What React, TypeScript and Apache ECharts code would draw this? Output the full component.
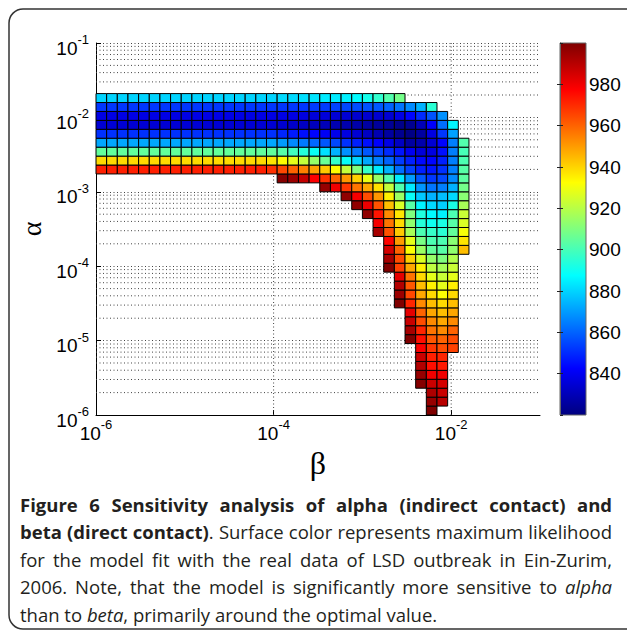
import React, { useEffect, useRef } from "react";
import * as echarts from "echarts";

// ---- grid edges (log10 exponents) ----
const betaEdges = [-6, -5.88, -5.76, -5.64, -5.52, -5.4, -5.28, -5.16, -5.04, -4.92, -4.8, -4.68, -4.56, -4.44, -4.32, -4.2, -4.08, -3.96, -3.84, -3.72, -3.6, -3.48, -3.36, -3.24, -3.12, -3, -2.88, -2.76, -2.64, -2.52, -2.4, -2.28, -2.16, -2.04, -1.92, -1.8];
const alphaEdges = [-6, -5.88, -5.76, -5.64, -5.52, -5.4, -5.28, -5.16, -5.04, -4.92, -4.8, -4.68, -4.56, -4.44, -4.32, -4.2, -4.08, -3.96, -3.84, -3.72, -3.6, -3.48, -3.36, -3.24, -3.12, -3, -2.88, -2.76, -2.64, -2.52, -2.4, -2.28, -2.16, -2.04, -1.92, -1.8, -1.68];

// first beta column of every alpha row (row 0 = bottom)
const rowStartCol = [31, 31, 31, 30, 30, 30, 30, 30, 29, 29, 29, 29, 28, 28, 28, 28, 27, 27, 27, 27, 26, 26, 25, 24, 23, 21, 17, 0, 0, 0, 0, 0, 0, 0, 0, 0];

// maximum likelihood surface, row by row from the bottom (alpha = 1e-6) upwards
const likelihood: number[][] = [
  [1000],
  [996, 990],
  [992, 987],
  [999, 987, 985],
  [996, 980, 980],
  [991, 975, 973],
  [987, 972, 971],
  [978, 968, 964, 966],
  [1000, 975, 962, 960, 964],
  [993, 971, 957, 953, 960],
  [987, 964, 953, 948, 953],
  [982, 960, 948, 944, 948],
  [1000, 971, 953, 944, 939, 944],
  [995, 965, 948, 939, 932, 939],
  [991, 962, 944, 935, 928, 935],
  [982, 957, 939, 928, 923, 928],
  [1000, 966, 948, 935, 921, 917, 923],
  [993, 964, 941, 926, 914, 910, 919],
  [985, 960, 932, 915, 905, 903, 913, 944],
  [977, 950, 928, 909, 901, 901, 912, 937],
  [993, 963, 942, 917, 901, 897, 895, 905, 931],
  [979, 957, 939, 913, 894, 890, 892, 903, 926],
  [997, 974, 953, 937, 910, 893, 887, 885, 901, 923],
  [997, 981, 963, 944, 926, 903, 886, 881, 879, 892, 917],
  [997, 979, 964, 951, 935, 915, 889, 878, 874, 876, 881, 912],
  [996, 980, 968, 957, 948, 938, 922, 902, 884, 869, 863, 865, 874, 908],
  [999, 995, 988, 978, 969, 960, 951, 941, 929, 914, 902, 884, 870, 858, 852, 855, 867, 904],
  [972, 972, 972, 972, 972, 972, 972, 972, 972, 972, 972, 972, 972, 972, 972, 972, 969, 965, 960, 955, 949, 942, 933, 922, 910, 897, 884, 874, 862, 854, 848, 846, 851, 865, 903],
  [939, 939, 939, 939, 939, 939, 939, 939, 939, 939, 939, 939, 939, 939, 939, 939, 937, 933, 928, 922, 914, 906, 897, 889, 880, 872, 865, 860, 853, 848, 844, 843, 848, 865, 901],
  [905, 905, 905, 905, 905, 905, 905, 905, 905, 905, 905, 905, 905, 905, 905, 905, 905, 903, 899, 894, 889, 882, 874, 868, 863, 858, 854, 850, 846, 840, 836, 837, 845, 865, 900],
  [872, 872, 872, 872, 872, 872, 872, 872, 872, 872, 872, 872, 872, 872, 872, 872, 872, 870, 867, 864, 861, 858, 855, 851, 848, 845, 842, 838, 832, 826, 828, 835, 843, 865, 902],
  [851, 851, 851, 851, 851, 851, 851, 851, 851, 851, 851, 851, 851, 851, 851, 851, 851, 849, 847, 845, 843, 841, 839, 837, 835, 832, 829, 826, 823, 821, 826, 837, 852, 871],
  [835, 835, 835, 835, 835, 835, 835, 835, 835, 835, 835, 835, 835, 835, 835, 835, 835, 834, 833, 832, 831, 830, 829, 828, 827, 826, 825, 824, 822, 823, 830, 842, 862, 886],
  [838, 838, 838, 838, 838, 838, 838, 838, 838, 838, 838, 838, 838, 838, 838, 838, 838, 838, 838, 837, 836, 836, 835, 835, 834, 834, 834, 835, 838, 843, 850, 857, 868],
  [852, 852, 852, 852, 852, 852, 852, 852, 852, 852, 852, 852, 852, 852, 852, 852, 852, 852, 852, 852, 853, 853, 854, 855, 856, 857, 858, 860, 863, 867, 874, 895],
  [880, 880, 880, 880, 880, 880, 880, 880, 880, 880, 880, 880, 880, 880, 880, 880, 880, 881, 881, 882, 883, 884, 884, 885, 887, 891, 896, 902, 908],
];

// ---- axes ----
const X_MIN = -6;
const X_MAX = -1;
const Y_MIN = -6;
const Y_MAX = -1;
const xTickExp = [-6, -4, -2];
const xGridExp = [-4, -2];
const minorDecades = [-6, -5, -4, -3, -2];
const minorMultipliers = [2, 3, 4, 5, 6, 7, 8, 9];
const CB_MIN = 820;
const CB_MAX = 1000;
const CB_STEP = 20;
const jetColors = ["#00007F", "#0000FF", "#007FFF", "#00FFFF", "#7FFF7F", "#FFFF00", "#FF7F00", "#FF0000", "#7F0000"];

// ---- caption ----
type Seg = [string, "normal" | "bold" | "italic"];
const captionLine1: Seg[] = [["Figure 6 Sensitivity analysis of alpha (indirect contact) and", "bold"]];
const captionLine2: Seg[] = [["beta (direct contact)", "bold"], [". Surface color represents maximum likelihood", "normal"]];
const captionLine3: Seg[] = [["for the model fit with the real data of LSD outbreak in Ein-Zurim,", "normal"]];
const captionLine4: Seg[] = [["2006. Note, that the model is significantly more sensitive to ", "normal"], ["alpha", "italic"]];
const captionLine5: Seg[] = [["than to ", "normal"], ["beta", "italic"], [", primarily around the optimal value.", "normal"]];
const captionLines = [captionLine1, captionLine2, captionLine3, captionLine4, captionLine5];
const captionJustify = [true, true, true, true, false];

const CAP_SIZE = 18.5;
const CAP_BOLD_SIZE = 18.5;
const CAP_LEFT = 20;
const CAP_RIGHT = 612;
const CAP_Y0 = 504;
const CAP_DY = 27.5;

const fontOf = (s: string) =>
  s === "bold"
    ? `bold ${CAP_BOLD_SIZE}px "Open Sans"`
    : s === "italic"
    ? `italic ${CAP_SIZE}px "Open Sans"`
    : `${CAP_SIZE}px "Open Sans"`;

function splitWords(segs: Seg[]) {
  const words: { text: string; style: string }[][] = [[]];
  segs.forEach(([text, style]) => {
    const parts = text.split(" ");
    parts.forEach((p, j) => {
      if (j > 0) words.push([]);
      if (p.length) words[words.length - 1].push({ text: p, style });
    });
  });
  return words.filter((w) => w.length > 0);
}

const tickRich = {
  b: { fontSize: 19, fontFamily: "Liberation Sans", color: "#000", lineHeight: 30 },
  s: { fontSize: 13, fontFamily: "Liberation Sans", color: "#000", lineHeight: 10, verticalAlign: "top" },
};

export default function App() {
  const ref = useRef<HTMLDivElement>(null);

  useEffect(() => {
    const el = ref.current;
    if (!el) return;
    const chart = echarts.init(el, null, { renderer: "svg" });

    const cells: number[][] = [];
    likelihood.forEach((vals, r) => {
      vals.forEach((v, i) => {
        const c = rowStartCol[r] + i;
        cells.push([betaEdges[c], betaEdges[c + 1], alphaEdges[r], alphaEdges[r + 1], v]);
      });
    });

    const gridLines: number[][] = [];
    minorDecades.forEach((d) =>
      minorMultipliers.forEach((m) => {
        const y = d + Math.log10(m);
        gridLines.push([X_MIN, y, X_MAX, y]);
      })
    );
    xGridExp.forEach((x) => gridLines.push([x, Y_MIN, x, Y_MAX]));

    // caption layout (justified)
    const ctx = document.createElement("canvas").getContext("2d")!;
    const measure = (t: string, st: string) => {
      ctx.font = fontOf(st);
      return ctx.measureText(t).width;
    };
    const captionEls: any[] = [];
    captionLines.forEach((segs, li) => {
      const words = splitWords(segs);
      const widths = words.map((w) => w.reduce((s, g) => s + measure(g.text, g.style), 0));
      const total = widths.reduce((a, b) => a + b, 0);
      const gap = captionJustify[li]
        ? (CAP_RIGHT - CAP_LEFT - total) / (words.length - 1)
        : measure(" ", "normal");
      let x = CAP_LEFT;
      const y = CAP_Y0 + li * CAP_DY;
      words.forEach((w, wi) => {
        let wx = x;
        w.forEach((g) => {
          captionEls.push({
            type: "text",
            x: wx,
            y,
            style: {
              text: g.text,
              font: fontOf(g.style),
              fill: "#231f20",
              align: "left",
              verticalAlign: "middle",
              textAlign: "left",
              textVerticalAlign: "middle",
            },
          });
          wx += measure(g.text, g.style);
        });
        x += widths[wi] + gap;
      });
    });

    const jetStops = jetColors.map((c, i) => ({ offset: i / (jetColors.length - 1), color: c }));

    const option: any = {
      animation: false,
      backgroundColor: "#fff",
      graphic: [
        {
          type: "rect",
          z: -10,
          shape: { x: 9, y: 9, width: 700, height: 620, r: 14 },
          style: { fill: "none", stroke: "#333", lineWidth: 1.5 },
        },
        ...captionEls,
      ],
      grid: [
        { left: 96, top: 43, width: 444, height: 372 },
        { left: 560, top: 43, width: 26, height: 372 },
      ],
      xAxis: [
        {
          gridIndex: 0,
          type: "value",
          min: X_MIN,
          max: X_MAX,
          interval: 2,
          name: "β",
          nameLocation: "middle",
          nameGap: 26,
          nameTextStyle: { fontFamily: "Liberation Serif", fontSize: 32, color: "#000" },
          axisLine: { show: true, onZero: false, lineStyle: { color: "#000", width: 1 } },
          axisTick: { show: true, inside: true, length: 5, customValues: xTickExp, lineStyle: { color: "#000" } },
          axisLabel: {
            margin: 3,
            customValues: xTickExp,
            formatter: (v: number) => `{b|10}{s|${v}}`,
            rich: tickRich,
          },
          splitLine: { show: false },
        },
        { gridIndex: 1, type: "value", min: 0, max: 1, show: false },
      ],
      yAxis: [
        {
          gridIndex: 0,
          type: "value",
          min: Y_MIN,
          max: Y_MAX,
          interval: 1,
          name: "α",
          nameLocation: "middle",
          nameRotate: 90,
          nameGap: 41,
          nameTextStyle: { fontFamily: "Liberation Serif", fontSize: 28, color: "#000" },
          axisLine: { show: true, onZero: false, lineStyle: { color: "#000", width: 1 } },
          axisTick: { show: true, inside: true, length: 5, lineStyle: { color: "#000" } },
          axisLabel: {
            margin: 7,
            padding: [10, 0, 0, 0],
            formatter: (v: number) => `{b|10}{s|${v}}`,
            rich: tickRich,
          },
          splitLine: { show: true, lineStyle: { color: "#444", width: 1, type: [1, 2.5] } },
        },
        {
          gridIndex: 1,
          type: "value",
          position: "right",
          min: CB_MIN,
          max: CB_MAX,
          interval: CB_STEP,
          z: 5,
          axisLine: { show: true, lineStyle: { color: "#666" } },
          axisTick: { show: true, inside: true, length: 3, lineStyle: { color: "#222" } },
          axisLabel: {
            show: true,
            margin: 3,
            showMinLabel: false,
            showMaxLabel: false,
            fontSize: 19,
            fontFamily: "Liberation Sans",
            color: "#000",
          },
          splitLine: { show: false },
        },
        {
          gridIndex: 1,
          type: "value",
          position: "left",
          min: CB_MIN,
          max: CB_MAX,
          interval: CB_STEP,
          z: 5,
          axisLine: { show: true, lineStyle: { color: "#666" } },
          axisTick: { show: true, inside: true, length: 3, lineStyle: { color: "#222" } },
          axisLabel: { show: false },
          splitLine: { show: false },
        },
      ],
      visualMap: {
        type: "continuous",
        show: false,
        min: CB_MIN,
        max: CB_MAX,
        dimension: 4,
        seriesIndex: 1,
        inRange: { color: jetColors },
      },
      series: [
        {
          type: "custom",
          xAxisIndex: 0,
          yAxisIndex: 0,
          z: 1,
          silent: true,
          encode: { x: [0, 2], y: [1, 3] },
          data: gridLines,
          renderItem: (params: any, api: any) => {
            const p0 = api.coord([api.value(0), api.value(1)]);
            const p1 = api.coord([api.value(2), api.value(3)]);
            return {
              type: "line",
              shape: { x1: p0[0], y1: p0[1], x2: p1[0], y2: p1[1] },
              style: { stroke: "#444", lineWidth: 1, lineDash: [1, 2.5] },
            };
          },
        },
        {
          type: "custom",
          xAxisIndex: 0,
          yAxisIndex: 0,
          z: 3,
          encode: { x: [0, 1], y: [2, 3] },
          data: cells,
          renderItem: (params: any, api: any) => {
            const p0 = api.coord([api.value(0), api.value(3)]);
            const p1 = api.coord([api.value(1), api.value(2)]);
            return {
              type: "rect",
              shape: { x: p0[0], y: p0[1], width: p1[0] - p0[0], height: p1[1] - p0[1] },
              style: { fill: api.visual("color"), stroke: "#000", lineWidth: 1 },
            };
          },
        },
        {
          type: "custom",
          xAxisIndex: 1,
          yAxisIndex: 1,
          z: 2,
          silent: true,
          encode: { x: [0, 1], y: [2, 3] },
          data: [[0, 1, CB_MIN, CB_MAX]],
          renderItem: (params: any, api: any) => {
            const p0 = api.coord([api.value(0), api.value(3)]);
            const p1 = api.coord([api.value(1), api.value(2)]);
            return {
              type: "rect",
              shape: { x: p0[0], y: p0[1], width: p1[0] - p0[0], height: p1[1] - p0[1] },
              style: {
                fill: new echarts.graphic.LinearGradient(0, 1, 0, 0, jetStops),
                stroke: "#666",
                lineWidth: 1,
              },
            };
          },
        },
      ],
    };

    chart.setOption(option);
    return () => chart.dispose();
  }, []);

  return (
    <div
      ref={ref}
      style={{ position: "absolute", left: 0, top: 0, width: 627, height: 632, background: "#fff" }}
    />
  );
}
